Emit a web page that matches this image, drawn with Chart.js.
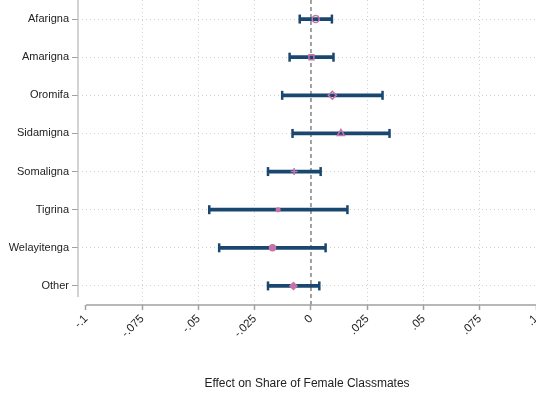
<!DOCTYPE html>
<html>
<head>
<meta charset="utf-8">
<script src="https://cdn.jsdelivr.net/npm/chart.js@4"></script>
<style>
  html, body { margin: 0; padding: 0; background: #fff; }
  #wrap { width: 536px; height: 396px; }
</style>
</head>
<body>
<div id="wrap"><canvas id="coefChart"></canvas></div>
<script>
// ====================== DATA ======================
const categories = ["Afarigna", "Amarigna", "Oromifa", "Sidamigna", "Somaligna", "Tigrina", "Welayitenga", "Other"];
const estimates = [0.0021, 0.0002, 0.0095, 0.0133, -0.0075, -0.0146, -0.0171, -0.0078];
const lowerCI = [-0.0050, -0.0095, -0.0128, -0.0082, -0.0191, -0.0452, -0.0408, -0.0191];
const upperCI = [0.0093, 0.0100, 0.0318, 0.0349, 0.0043, 0.0162, 0.0065, 0.0037];
const markerShapes = ["circle", "rect", "rectRot", "triangle", "cross", "circle", "circle", "rectRot"];
const markerFilled = [false, false, false, false, false, true, true, true];
const markerSizes = [3.5, 3.5, 4, 4, 3.5, 1.8, 3, 3.5];
const tickValues = [-0.1, -0.075, -0.05, -0.025, 0, 0.025, 0.05, 0.075, 0.1];
const tickLabels = ["-.1", "-.075", "-.05", "-.025", "0", ".025", ".05", ".075", ".1"];

const navy = "#1a476f";
const pink = "#c873aa";

// ====================== EXTRA LINES ======================
// y axis line, x axis line from -.1 and the dashed zero line
const axisLines = {
  id: "axisLines",
  beforeDatasetsDraw(chart) {
    const ctx = chart.ctx;
    const area = chart.chartArea;
    const xs = chart.scales.x;
    ctx.save();
    // zero line
    ctx.strokeStyle = "#444";
    ctx.lineWidth = 1;
    ctx.setLineDash([4, 3]);
    const x0 = xs.getPixelForValue(0);
    ctx.beginPath();
    ctx.moveTo(x0, area.top);
    ctx.lineTo(x0, area.bottom);
    ctx.stroke();
    ctx.setLineDash([]);
    // y axis
    ctx.strokeStyle = "#c4c4c4";
    ctx.lineWidth = 1.5;
    ctx.beginPath();
    ctx.moveTo(area.left, area.top);
    ctx.lineTo(area.left, area.bottom - 8);
    ctx.stroke();
    // x axis
    ctx.strokeStyle = "#a0a0a0";
    ctx.beginPath();
    ctx.moveTo(xs.getPixelForValue(-0.1), area.bottom);
    ctx.lineTo(area.right, area.bottom);
    ctx.stroke();
    ctx.restore();
  }
};

// ====================== CHART ======================
const chart = new Chart(document.getElementById("coefChart"), {
  type: "bar",
  data: {
    labels: categories,
    datasets: [
      {
        // confidence intervals
        data: categories.map((c, i) => [lowerCI[i], upperCI[i]]),
        backgroundColor: navy,
        barThickness: 3,
        borderSkipped: false,
        order: 3
      },
      {
        // caps
        type: "scatter",
        data: categories.flatMap((c, i) => [{ x: lowerCI[i], y: c }, { x: upperCI[i], y: c }]),
        pointStyle: "line",
        rotation: 90,
        radius: 4.5,
        borderWidth: 2.5,
        borderColor: navy,
        order: 2
      },
      {
        // point estimates
        type: "scatter",
        data: categories.map((c, i) => ({ x: estimates[i], y: c })),
        pointStyle: markerShapes,
        radius: markerSizes,
        borderWidth: 1.5,
        borderColor: pink,
        backgroundColor: markerFilled.map(f => f ? pink : "rgba(0,0,0,0)"),
        order: 1
      }
    ]
  },
  plugins: [axisLines],
  options: {
    indexAxis: "y",
    responsive: true,
    maintainAspectRatio: false,
    animation: false,
    layout: { autoPadding: false, padding: { left: 0, right: -3, top: -1, bottom: 0 } },
    plugins: { legend: { display: false }, tooltip: { enabled: false } },
    scales: {
      x: {
        type: "linear",
        min: -0.1 - 8 / 2262,
        max: 0.1,
        afterBuildTicks: (s) => { s.ticks = tickValues.map(v => ({ value: v })); },
        afterFit: (s) => { s.height = 91; s.paddingLeft = 0; s.paddingRight = 0; },
        border: { display: false, dash: [1, 3] },
        grid: {
          color: (c) => (c.tick && (Math.abs(c.tick.value) > 0.09 || c.tick.value === 0)) ? "rgba(0,0,0,0)" : "#d0d0d0",
          lineWidth: 1,
          drawTicks: true,
          tickLength: 5,
          tickColor: "#a0a0a0",
          tickWidth: 1.5
        },
        ticks: {
          autoSkip: false,
          minRotation: 45,
          maxRotation: 45,
          padding: 2,
          color: "#222",
          font: { family: "Liberation Sans", size: 11.5 },
          callback: (v, i) => tickLabels[i]
        },
        title: {
          display: true,
          text: "Effect on Share of Female Classmates",
          color: "#222",
          font: { family: "Liberation Sans", size: 12 },
          padding: { top: 0, bottom: 5 }
        }
      },
      y: {
        type: "category",
        offset: true,
        afterFit: (s) => { s.width = 78; s.paddingTop = 0; s.paddingBottom = 0; },
        border: { display: false, dash: [1, 3] },
        grid: {
          offset: false,
          color: "#d0d0d0",
          lineWidth: 1,
          drawTicks: true,
          tickLength: 6,
          tickColor: "#a0a0a0",
          tickWidth: 1
        },
        ticks: {
          padding: 3,
          color: "#222",
          font: { family: "Liberation Sans", size: 11 }
        }
      }
    }
  }
});
</script>
</body>
</html>
